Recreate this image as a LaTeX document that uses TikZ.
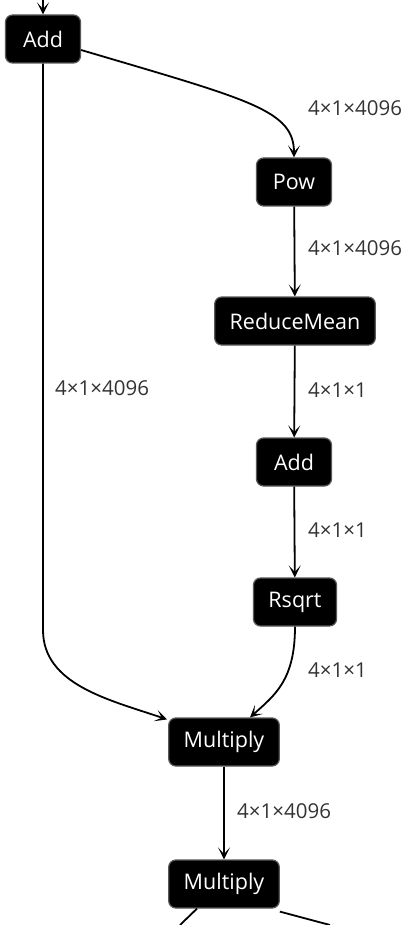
\documentclass[tikz,border=0pt]{standalone}
\usepackage{fontspec}
\setmainfont{Open Sans}
\usepackage{tikz}
\usetikzlibrary{positioning}
\usetikzlibrary{arrows.meta}

\tikzset{
  opbox/.style={fill=black, draw=black!65, line width=1.2pt, rounded corners=7pt,
    text=white, font=\fontsize{21.5}{24}\selectfont, minimum height=48pt,
    minimum width=75pt, inner xsep=15pt},
  flow/.style={line width=1.8pt, -{Stealth[length=12pt,width=12pt,inset=6.5pt]}},
  dims/.style={anchor=west, text=black!80, font=\fontsize{20.5}{23}\selectfont, inner sep=0pt}
}

\begin{document}
\begin{tikzpicture}[x=1pt, y=-1pt]
      % Page frame
      \useasboundingbox (0,0) rectangle (415,925);

      % Operator nodes
      \node[opbox] (add1) at (43,39) {Add};
      \node[opbox] (pow) at (294,182) {Pow};
      \node[opbox] (rmean) at (295,321) {ReduceMean};
      \node[opbox] (add2) at (294,462) {Add};
      \node[opbox] (rsqrt) at (295,602) {Rsqrt};
      \node[opbox] (mul1) at (224,742) {Multiply};
      \node[opbox] (mul2) at (224,884) {Multiply};

      % Loose ends at the page border
      \coordinate (top0) at (43,0);
      \coordinate (outl) at (180,925);
      \coordinate (outr) at (330,925);

      % Edges
      \draw[flow] (top0) -- (add1);
      \draw[flow] (add1.east) ++(0,11) .. controls (250,100) and (294,110) .. (pow.north);
      \draw[flow] (pow) -- (rmean);
      \draw[flow] (rmean) -- (add2);
      \draw[flow] (add2) -- (rsqrt);
      \draw[flow] (rsqrt.south) .. controls (295,680) and (275,695) .. ([xshift=26pt]mul1.north);
      \draw[flow] (add1.south) -- (43,630) .. controls (43,685) and (110,700) .. ([xshift=-57pt,yshift=-2pt]mul1.north);
      \draw[flow] (mul1) -- (mul2);
      \draw[line width=1.8pt] ([xshift=-27pt]mul2.south) -- (outl);
      \draw[line width=1.8pt] ([yshift=-3pt]mul2.south east) -- (outr);

      % Shape labels
      \node[dims] (d1) at (308,108) {4×1×4096};
      \node[dims] (d2) at (308,248) {4×1×4096};
      \node[dims] (d3) at (308,390) {4×1×1};
      \node[dims] (d4) at (308,530) {4×1×1};
      \node[dims] (d5) at (308,670) {4×1×1};
      \node[dims] (d6) at (55,388) {4×1×4096};
      \node[dims] (d7) at (237,811) {4×1×4096};
    \end{tikzpicture}
\end{document}
